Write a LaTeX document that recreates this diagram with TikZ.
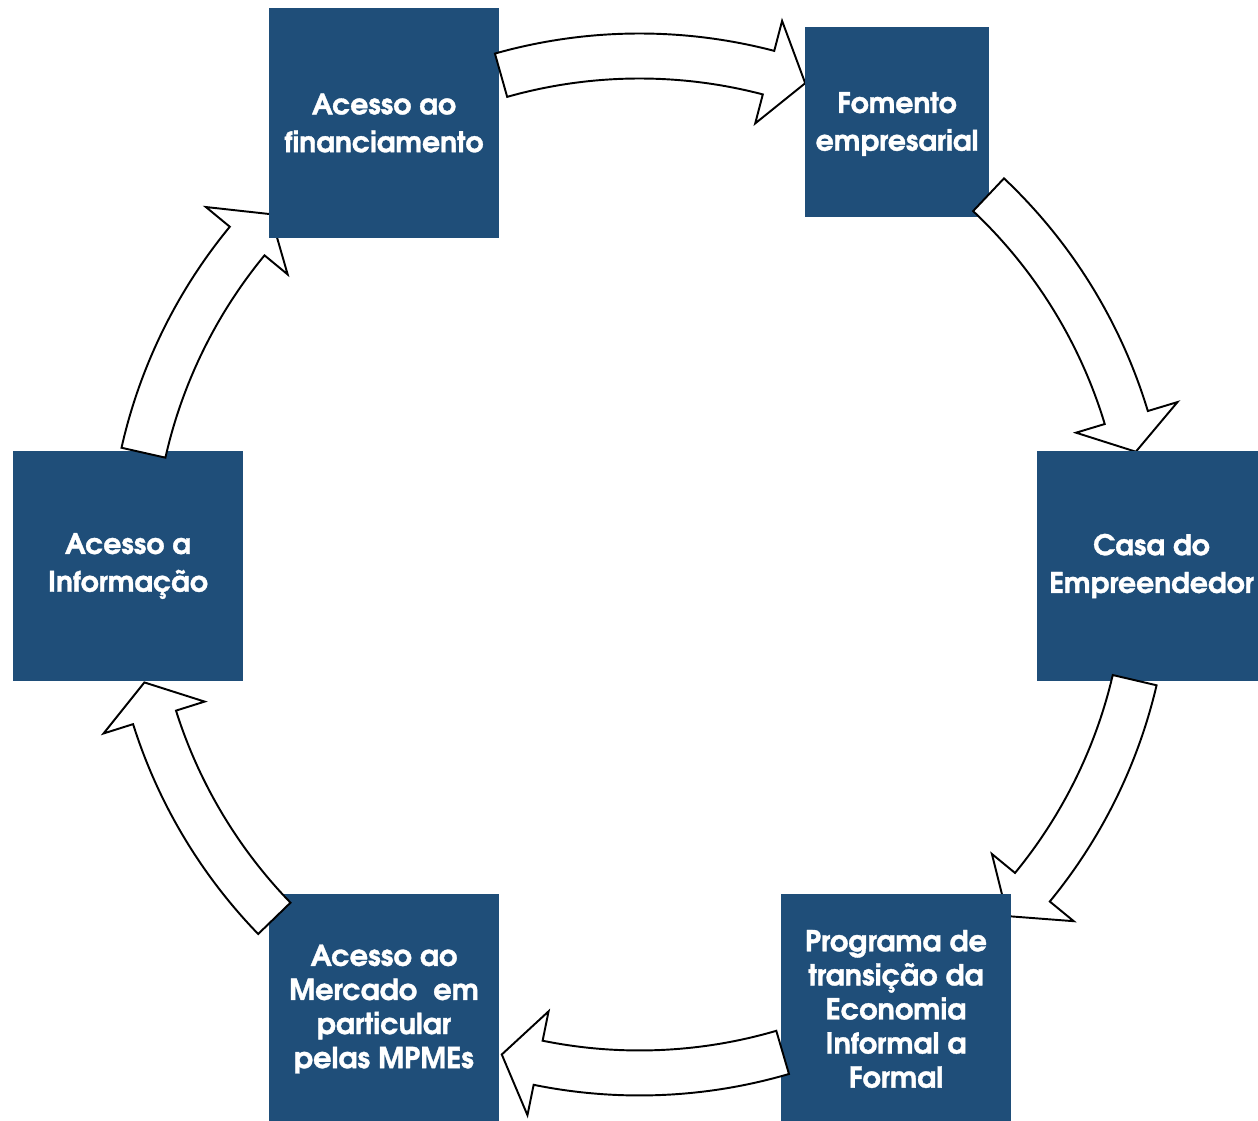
\documentclass[tikz,border=0pt]{standalone}
\usepackage{fontspec}
\setmainfont{texgyreadventor}[Extension=.otf, UprightFont=*-regular, BoldFont=*-bold, BoldFeatures={FakeBold=1.2}]
\usetikzlibrary{calc}
\definecolor{boxblue}{RGB}{31,78,121}
\tikzset{
  box/.style={fill=boxblue, draw=none, inner sep=0pt, text=white, align=center,
    font=\fontsize{16.1pt}{21.5pt}\selectfont\bfseries},
  boxsmall/.style={box, font=\fontsize{16.4pt}{19.4pt}\selectfont\bfseries},
  blockarrow/.style={draw=black, fill=white, line width=1.1pt, line join=miter}
}
\newcommand\cyclearrow[3]{%
  \draw[blockarrow] ($(C)+(#1:531)$) arc[start angle=#1, end angle=#2, radius=531]
    -- ($(C)+(#2:562)$) -- ($(C)+(#3:509)$) -- ($(C)+(#2:456)$) -- ($(C)+(#2:486)$)
    arc[start angle=#2, end angle=#1, radius=486] -- cycle;}
\begin{document}
\begin{tikzpicture}[x=0.02cm, y=0.02cm]
\useasboundingbox (0,0) rectangle (1258,1121);
\coordinate (C) at (639.5,556.5);
% box 6 and arrow 6 -> 1
\node[box, minimum width=4.6cm, minimum height=4.6cm] (b6) at (128,555) {Acesso a\\Informação};
\cyclearrow{167.3}{140.5}{136.5}
% box 1 and arrow 1 -> 2
\node[box, minimum width=4.6cm, minimum height=4.6cm] (b1) at (384,998) {Acesso ao\\financiamento};
\cyclearrow{105.8}{75.3}{71.0}
% box 2 and arrow 2 -> 3
\node[box, minimum width=3.68cm, minimum height=3.8cm] (b2) at (897,999) {};
\node[box, fill=none] (t2) at (897,997) {Fomento\\empresarial};
\cyclearrow{46.65}{16.8}{12.8}
% box 3 and arrow 3 -> 4
\node[box, minimum width=4.58cm, minimum height=4.6cm] (b3) at (1151.5,555) {Casa do\\Empreendedor};
\cyclearrow{-13.15}{-39.4}{-43.7}
% box 4 and arrow 4 -> 5
\node[boxsmall, minimum width=4.6cm, minimum height=4.6cm] (b4) at (896,112) {Programa de\\transição da\\Economia\\Informal a\\Formal};
\cyclearrow{-73.65}{-101.5}{-105.7}
% box 5 and arrow 5 -> 6
\node[boxsmall, minimum width=4.6cm, minimum height=4.6cm] (b5) at (384,112) {Acesso ao\\Mercado~~em\\particular\\pelas MPMEs};
\cyclearrow{-135.9}{-162.5}{-166.6}
\end{tikzpicture}
\end{document}
